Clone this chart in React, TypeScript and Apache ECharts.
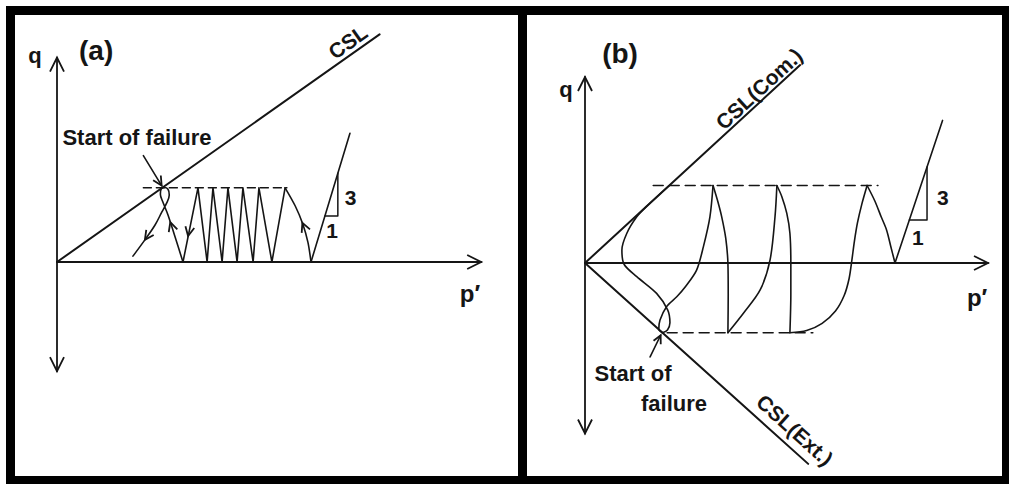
import React, { useEffect, useRef } from "react";
import * as echarts from "echarts";

// ---------- shared ----------
const INK = "#151515";
const SLOPE = 3; // drained total-stress path, dq/dp' = 3

// ---------- panel (a): one-way cyclic loading ----------
const A_Q_AXIS = [[0, -39], [0, 73]];
const A_P_AXIS = [[0, 0], [167, 0]];
const A_CSL_SLOPE = 0.64;
const A_CSL_END = 127;
const A_QCYC = 26.5;
const A_DASH = [34, 90.5];
const A_P0 = 100;
const A_FIRST_LOAD = [[100, 0], [98.8, 7], [96.8, 13.5], [93.8, 20], [89.8, 26.5]];
const A_PEAKS = [89.8, 79.5, 73.2, 67.3, 61.4, 55.5];
const A_TROUGHS = [84.6, 77.2, 70.9, 65.0, 59.1, 49.6];
const A_FAILURE_LOOP = [
  [49.6, 0], [46.5, 8.9], [43.7, 16.8], [41.6, 21.6], [40.7, 24.2], [41.0, 26.0],
  [42.2, 26.6], [43.7, 26.0], [44.2, 23.9], [43.2, 21.1], [41.3, 17.9],
  [38.6, 13.2], [34.6, 7.9], [29.9, 2.1],
];
const A_FAIL_POINTER = [[34, 38], [41.2, 27.3]];
const A_TRI_BASE_Q = 16.4;
const A_TRI_RUN = 5.1;
const A_SLOPE_TOP_Q = 46;

// ---------- panel (b): two-way cyclic loading ----------
const B_Q_AXIS = [[0, -55], [0, 60]];
const B_P_AXIS = [[0, 0], [130, 0]];
const B_CSL_COM_SLOPE = 0.92;
const B_CSL_COM_END = 69.4;
const B_CSL_EXT_SLOPE = -0.9;
const B_CSL_EXT_END = 72;
const B_Q_COMP = 25;
const B_Q_EXT = -22.5;
const B_DASH_TOP = [22, 94.5];
const B_DASH_BOT = [26.5, 73.5];
const B_P0 = 100;
const B_CURVES = [
  [[100, 0], [98.6, 5.5], [97.3, 10.6], [95.5, 15], [93.5, 20], [91, 25]],
  [[91, 25], [89.3, 19], [87.9, 13], [86.9, 7], [86.1, 1], [85.2, -5], [83.6, -10.5], [80.8, -15.5], [76.5, -19.5], [71.5, -21.8], [66.1, -22.5]],
  [[66.1, -22.5], [66.4, -10], [66.4, 0], [66.1, 9.6], [65.1, 16], [63.5, 21.4], [61.9, 25]],
  [[61.9, 25], [61.3, 15], [59.7, 1], [56.5, -8.7], [51.1, -16.2], [46.1, -22.5]],
  [[46.1, -22.5], [46.2, -10], [46.1, 0], [45.4, 8], [44.1, 14.9], [42.8, 20], [41.3, 25]],
  [[41.3, 25], [40.3, 14.9], [38.2, 5.3], [36, -2.3], [32.5, -7.5], [29.6, -10.9], [26.3, -14.1], [24.2, -18.4], [23.8, -21.4], [25, -22.5]],
  [[25, -22.5], [26.6, -21.6], [27.4, -19.3], [26.7, -15.2], [23.1, -9.8], [16.7, -4.4], [12.6, -0.4], [11.9, 4.2], [13.5, 9.6], [16.7, 14.9], [19.9, 18.3], [27.2, 25]],
];
const B_FAIL_POINTER = [[21, -30.3], [24.4, -23.3]];
const B_TRI_BASE_Q = 13.9;
const B_TRI_RUN = 5.7;
const B_SLOPE_TOP_Q = 46;

type Label = { text: string; at: number[]; size: number; rot?: number; weight?: string };

const A_LABELS: Label[] = [
  { text: "q", at: [-8.7, 73.6], size: 22 },
  { text: "(a)", at: [15.4, 75.5], size: 28 },
  { text: "CSL", at: [114.5, 78.6], size: 21, rot: 35.2 },
  { text: "Start of failure", at: [31.5, 44.6], size: 22 },
  { text: "3", at: [115.6, 22.9], size: 21 },
  { text: "1", at: [108.3, 11.1], size: 21 },
  { text: "p\u2032", at: [162.6, -11.1], size: 24 },
];
const B_LABELS: Label[] = [
  { text: "q", at: [-6.1, 56.1], size: 22 },
  { text: "(b)", at: [11.3, 67.7], size: 28 },
  { text: "CSL(Com.)", at: [56.1, 56.2], size: 21, rot: 42.6 },
  { text: "CSL(Ext.)", at: [67.7, -53.9], size: 21, rot: -42 },
  { text: "Start of", at: [15.5, -35.5], size: 22 },
  { text: "failure", at: [28.7, -45.2], size: 22 },
  { text: "3", at: [115.4, 21], size: 21 },
  { text: "1", at: [107.4, 8.1], size: 21 },
  { text: "p\u2032", at: [126.5, -11], size: 24 },
];

// arrow heads: [p', q, dir p', dir q, length px, half width px]
const A_ARROWS = [
  [0, 73, 0, 1, 14, 7],
  [0, -39, 0, -1, 14, 7],
  [167, 0, 1, 0, 14, 7],
  [96.6, 14, -3, 6.5, 9, 4.5],
  [51.6, 9.3, -5.9, -26.5, 9, 4.5],
  [44.6, 14.2, -2.8, 7.9, 9, 4.5],
  [34.6, 7.9, -4, -5.3, 9, 4.5],
  [41.2, 27.3, 7.2, -10.7, 9, 4.5],
];
const B_ARROWS = [
  [0, 60, 0, 1, 14, 7],
  [0, -55, 0, -1, 14, 7],
  [130, 0, 1, 0, 14, 7],
  [24.4, -23.3, 3.4, 7, 8, 4],
];

// ---------- helpers ----------
function gridFor(origin: number[], sx: number, sy: number, xr: number[], yr: number[]) {
  return {
    left: origin[0] + xr[0] * sx,
    top: origin[1] - yr[1] * sy,
    width: (xr[1] - xr[0]) * sx,
    height: (yr[1] - yr[0]) * sy,
  };
}

function lineSeries(idx: number, data: number[][], width: number, opts: any = {}) {
  return {
    type: "line",
    xAxisIndex: idx,
    yAxisIndex: idx,
    data,
    symbol: "none",
    silent: true,
    clip: false,
    smooth: opts.smooth ?? false,
    lineStyle: { color: INK, width, type: opts.dash ?? "solid", cap: "round", join: "round" },
  };
}

function arrowSeries(idx: number, arrows: number[][]) {
  return {
    type: "custom",
    xAxisIndex: idx,
    yAxisIndex: idx,
    silent: true,
    data: arrows,
    encode: { x: 0, y: 1 },
    renderItem: (_p: any, api: any) => {
      const x = api.value(0), y = api.value(1), dx = api.value(2), dy = api.value(3);
      const len = api.value(4), half = api.value(5);
      const a = api.coord([x, y]);
      const b = api.coord([x + dx, y + dy]);
      let ux = b[0] - a[0], uy = b[1] - a[1];
      const n = Math.hypot(ux, uy) || 1;
      ux /= n; uy /= n;
      const bx = a[0] - ux * len, by = a[1] - uy * len;
      return {
        type: "polyline",
        shape: { points: [[bx - uy * half, by + ux * half], a, [bx + uy * half, by - ux * half]] },
        style: { stroke: INK, lineWidth: 1.8, fill: null, lineJoin: "miter" },
      };
    },
  };
}

function labelSeries(idx: number, labels: Label[]) {
  return {
    type: "custom",
    xAxisIndex: idx,
    yAxisIndex: idx,
    silent: true,
    data: labels.map((l) => [l.at[0], l.at[1]]),
    encode: { x: 0, y: 1 },
    renderItem: (params: any, api: any) => {
      const l = labels[params.dataIndex];
      const p = api.coord([api.value(0), api.value(1)]);
      return {
        type: "text",
        x: p[0],
        y: p[1],
        rotation: ((l.rot || 0) * Math.PI) / 180,
        style: {
          text: l.text,
          fill: INK,
          fontSize: l.size,
          fontWeight: l.weight ?? "bold",
          fontFamily: "Liberation Sans, Arial, sans-serif",
          align: "center",
          verticalAlign: "middle",
        },
      };
    },
  };
}

function buildOption() {
  const AX = [-16, 180], AY = [-75, 85];
  const BX = [-14, 134], BY = [-68, 72];
  const gridA = gridFor([57, 262], 2.54, 2.8, AX, AY);
  const gridB = gridFor([585, 263], 3.1, 3.1, BX, BY);

  const axisX = (i: number, r: number[]) => ({ type: "value", gridIndex: i, min: r[0], max: r[1], show: false });
  const axisY = (i: number, r: number[]) => ({ type: "value", gridIndex: i, min: r[0], max: r[1], show: false });

  // panel (a) geometry from the named values
  const aCsl = [[0, 0], [A_CSL_END, A_CSL_SLOPE * A_CSL_END]];
  const aDash = [[A_DASH[0], A_QCYC], [A_DASH[1], A_QCYC]];
  const aZig: number[][] = [];
  A_PEAKS.forEach((p, i) => {
    aZig.push([p, A_QCYC]);
    aZig.push([A_TROUGHS[i], 0]);
  });
  const aSlope = [[A_P0, 0], [A_P0 + A_SLOPE_TOP_Q / SLOPE, A_SLOPE_TOP_Q]];
  const aT0 = A_P0 + A_TRI_BASE_Q / SLOPE;
  const aTri = [[aT0, A_TRI_BASE_Q], [aT0 + A_TRI_RUN, A_TRI_BASE_Q], [aT0 + A_TRI_RUN, A_TRI_BASE_Q + SLOPE * A_TRI_RUN]];

  // panel (b)
  const bCom = [[0, 0], [B_CSL_COM_END, B_CSL_COM_SLOPE * B_CSL_COM_END]];
  const bExt = [[0, 0], [B_CSL_EXT_END, B_CSL_EXT_SLOPE * B_CSL_EXT_END]];
  const bDashTop = [[B_DASH_TOP[0], B_Q_COMP], [B_DASH_TOP[1], B_Q_COMP]];
  const bDashBot = [[B_DASH_BOT[0], B_Q_EXT], [B_DASH_BOT[1], B_Q_EXT]];
  const bSlope = [[B_P0, 0], [B_P0 + B_SLOPE_TOP_Q / SLOPE, B_SLOPE_TOP_Q]];
  const bT0 = B_P0 + B_TRI_BASE_Q / SLOPE;
  const bTri = [[bT0, B_TRI_BASE_Q], [bT0 + B_TRI_RUN, B_TRI_BASE_Q], [bT0 + B_TRI_RUN, B_TRI_BASE_Q + SLOPE * B_TRI_RUN]];

  return {
    animation: false,
    backgroundColor: "#ffffff",
    grid: [
      { ...gridA, containLabel: false },
      { ...gridB, containLabel: false },
    ],
    xAxis: [axisX(0, AX), axisX(1, BX)],
    yAxis: [axisY(0, AY), axisY(1, BY)],
    graphic: [
      { type: "rect", silent: true, shape: { x: 10.5, y: 10.5, width: 996, height: 470 }, style: { fill: "none", stroke: "#000", lineWidth: 9 } },
      { type: "rect", silent: true, shape: { x: 518, y: 6, width: 9, height: 478 }, style: { fill: "#000" } },
    ],
    series: [
      // (a)
      lineSeries(0, A_Q_AXIS, 1.8),
      lineSeries(0, A_P_AXIS, 2.2),
      lineSeries(0, aCsl, 2),
      lineSeries(0, aDash, 1.5, { dash: [8, 5] }),
      lineSeries(0, A_FIRST_LOAD, 1.6, { smooth: 0.3 }),
      lineSeries(0, aZig, 1.6),
      lineSeries(0, A_FAILURE_LOOP, 1.6, { smooth: 0.35 }),
      lineSeries(0, A_FAIL_POINTER, 1.6),
      lineSeries(0, aSlope, 1.6),
      lineSeries(0, aTri, 1.5),
      arrowSeries(0, A_ARROWS),
      labelSeries(0, A_LABELS),
      // (b)
      lineSeries(1, B_Q_AXIS, 1.8),
      lineSeries(1, B_P_AXIS, 2.2),
      lineSeries(1, bCom, 2),
      lineSeries(1, bExt, 2),
      lineSeries(1, bDashTop, 1.5, { dash: [10, 6] }),
      lineSeries(1, bDashBot, 1.5, { dash: [10, 6] }),
      ...B_CURVES.map((c) => lineSeries(1, c, 1.6, { smooth: 0.3 })),
      lineSeries(1, B_FAIL_POINTER, 1.6),
      lineSeries(1, bSlope, 1.6),
      lineSeries(1, bTri, 1.5),
      arrowSeries(1, B_ARROWS),
      labelSeries(1, B_LABELS),
    ],
  };
}

export default function App() {
  const ref = useRef<HTMLDivElement>(null);
  useEffect(() => {
    if (!ref.current) return;
    const chart = echarts.init(ref.current, undefined, { renderer: "svg" });
    chart.setOption(buildOption() as any);
    return () => chart.dispose();
  }, []);
  return (
    <div
      ref={ref}
      style={{ position: "fixed", left: 0, top: 0, width: 1009, height: 484, background: "#fff" }}
    />
  );
}
